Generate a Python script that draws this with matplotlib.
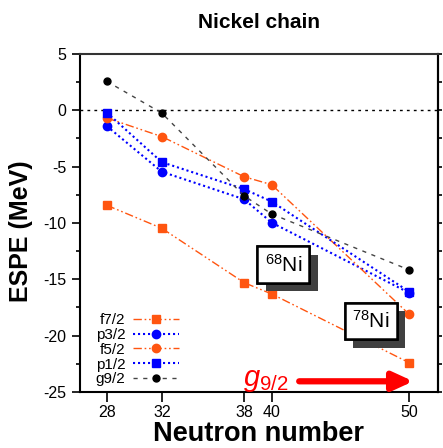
import matplotlib
matplotlib.use("Agg")
import matplotlib.pyplot as plt
import matplotlib.patheffects as pe
from matplotlib.ticker import MultipleLocator, NullLocator

plt.rcParams["font.family"] = ["Liberation Sans", "DejaVu Sans"]
plt.rcParams["mathtext.fontset"] = "custom"
plt.rcParams["mathtext.rm"] = "Liberation Sans"
plt.rcParams["mathtext.it"] = "Liberation Sans:italic"
plt.rcParams["axes.unicode_minus"] = False

# --- data ---------------------------------------------------------------------
neutrons = [28, 32, 38, 40, 50]
f72 = [-8.43, -10.47, -15.3, -16.3, -22.4]
p32 = [-1.4, -5.45, -7.9, -9.97, -16.2]
f52 = [-0.68, -2.33, -5.9, -6.6, -18.1]
p12 = [-0.2, -4.6, -7.0, -8.1, -16.1]
g92 = [2.57, -0.24, -7.6, -9.2, -14.16]

ORANGE = "#FF5510"
DASHDOTDOT = (0, (6, 2, 1.2, 2, 1.2, 2))
DOTTED = (0, (1, 1.4))

fig = plt.figure(figsize=(4.43, 4.48), dpi=100)
ax = fig.add_axes([0.1806, 0.125, 0.8081, 0.7545])

ax.axhline(0, color="black", lw=1, ls=(0, (2, 3)), zorder=1)

ax.plot(neutrons, f72, color=ORANGE, ls=DASHDOTDOT, lw=1, marker="s", ms=6, label="f7/2")
ax.plot(neutrons, p32, color="blue", ls=DOTTED, lw=1.5, marker="o", ms=6, label="p3/2")
ax.plot(neutrons, f52, color=ORANGE, ls=DASHDOTDOT, lw=1, marker="o", ms=6, label="f5/2")
ax.plot(neutrons, p12, color="blue", ls=DOTTED, lw=1.5, marker="s", ms=6, label="p1/2")
ax.plot(neutrons, g92, color="#444444", ls=(0, (3, 4)), lw=1, marker="o", ms=5,
        mfc="black", mec="black", label="g9/2")

ax.set_xlim(26.05, 52.1)
ax.set_ylim(-25, 5)
ax.set_xticks(neutrons)
ax.xaxis.set_minor_locator(NullLocator())
ax.yaxis.set_major_locator(MultipleLocator(5))
ax.yaxis.set_minor_locator(MultipleLocator(2.5))
ax.tick_params(axis="both", which="major", direction="out", length=6, width=1.2,
               labelsize=11.5, pad=4)
ax.tick_params(axis="y", which="minor", direction="out", length=3, width=1.2)
ax.tick_params(axis="x", which="major", length=7, pad=2.5)
for sp in ax.spines.values():
    sp.set_linewidth(1.5)
ax.spines["top"].set_color("#333333")

# short ticks every 2.5 on the right spine
sec = ax.secondary_yaxis("right")
sec.yaxis.set_major_locator(MultipleLocator(2.5))
sec.tick_params(direction="out", length=3, width=1.2, labelright=False)
sec.spines["right"].set_linewidth(1.5)

ax.set_title("Nickel chain", fontsize=15, fontweight="bold", pad=19)
ax.set_xlabel("Neutron number", fontsize=19.5, fontweight="bold", labelpad=0.5)
ax.set_ylabel("ESPE (MeV)", fontsize=18, fontweight="bold")
ax.yaxis.set_label_coords(-0.13, 0.476)

leg = ax.legend(loc="lower left", frameon=False, markerfirst=False, fontsize=11,
                handlelength=3.0, handletextpad=0.5, labelspacing=0.05,
                bbox_to_anchor=(0.005, -0.024))

# nucleus labels with drop shadows
for label, x, y in [(r"$^{68}$Ni", 40.85, -13.7), (r"$^{78}$Ni", 47.2, -18.7)]:
    t = ax.text(x, y, label, fontsize=15, ha="center", va="center", zorder=5,
                bbox=dict(boxstyle="square,pad=0.35", fc="white", ec="black", lw=1.8))
    t.get_bbox_patch().set_path_effects(
        [pe.withSimplePatchShadow(offset=(6, -6), shadow_rgbFace="#404040", alpha=1.0),
         pe.Normal()])

ax.text(39.6, -23.9, r"$g_{9/2}$", color="red", fontsize=21, ha="center", va="center")
ax.annotate("", xy=(50.3, -24.05), xytext=(42.0, -24.05),
            arrowprops=dict(arrowstyle="-|>,head_length=1.2,head_width=0.55",
                            color="red", lw=4.5, shrinkA=0, shrinkB=0))

fig.savefig("out.png", dpi=100)
